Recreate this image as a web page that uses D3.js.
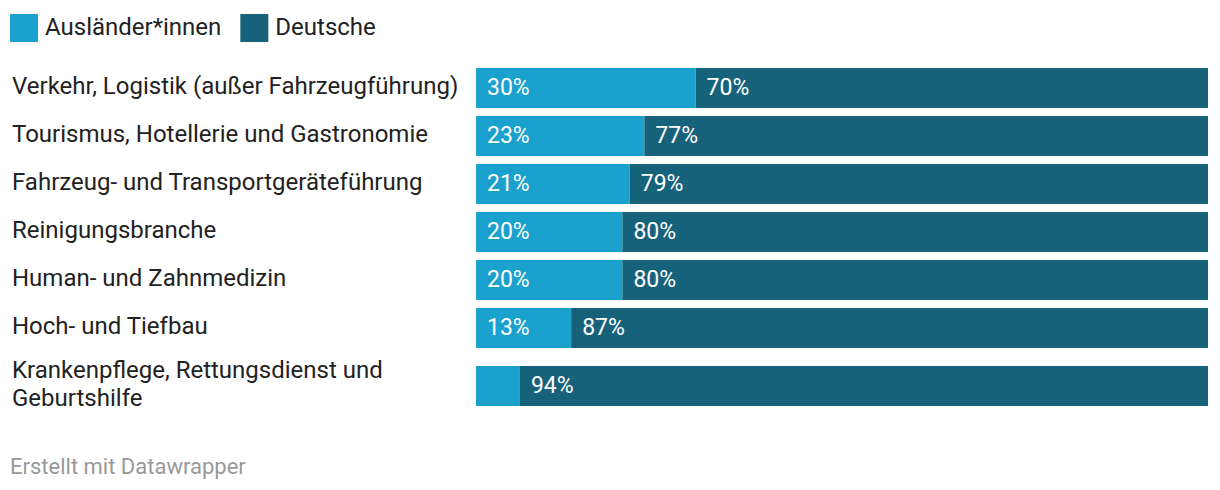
<!DOCTYPE html>
<html>
<head>
<meta charset="utf-8">
<script src="https://cdn.jsdelivr.net/npm/d3@7"></script>
<style>
  body { margin: 0; background: #fff; }
  svg { display: block; font-family: Roboto, sans-serif; }
</style>
</head>
<body>
<div id="chart"></div>
<script>
const categories = [
  ["Verkehr, Logistik (außer Fahrzeugführung)"],
  ["Tourismus, Hotellerie und Gastronomie"],
  ["Fahrzeug- und Transportgeräteführung"],
  ["Reinigungsbranche"],
  ["Human- und Zahnmedizin"],
  ["Hoch- und Tiefbau"],
  ["Krankenpflege, Rettungsdienst und", "Geburtshilfe"]
];
const auslaender = [30, 23, 21, 20, 20, 13, 6];
const deutsche = [70, 77, 79, 80, 80, 87, 94];
const seriesNames = ["Ausländer*innen", "Deutsche"];
const colors = ["#1ba1cd", "#17627b"];

const width = 1220, height = 490;
const svg = d3.select("#chart").append("svg")
  .attr("width", width)
  .attr("height", height);

// legend
const legend = svg.append("g");
let lx = 10;
seriesNames.forEach((name, i) => {
  legend.append("rect")
    .attr("x", lx).attr("y", 14)
    .attr("width", 28).attr("height", 28)
    .attr("fill", colors[i]);
  const t = legend.append("text")
    .attr("x", lx + 35).attr("y", 26.5)
    .attr("dominant-baseline", "central")
    .attr("font-size", 24)
    .attr("fill", "#222")
    .text(name);
  lx += 35 + t.node().getComputedTextLength() + 19;
});

// rows
const x = d3.scaleLinear().domain([0, 100]).range([476, 1208]);
const barH = 40, gap = 8, lineH = 28;
let rowTop = 68;
const rows = categories.map((lines, i) => {
  const block = Math.max(barH, lines.length * 30);
  const cy = rowTop + block / 2;
  rowTop += block + gap;
  return { lines, cy, a: auslaender[i], d: deutsche[i] };
});

const g = svg.append("g");
const row = g.selectAll("g.row").data(rows).join("g").attr("class", "row");

row.append("text")
  .attr("x", 12)
  .attr("font-size", 24)
  .attr("fill", "#222")
  .attr("dominant-baseline", "central")
  .selectAll("tspan")
  .data(d => d.lines.map((l, j) => ({ l, y: d.cy - 2 + (j - (d.lines.length - 1) / 2) * lineH })))
  .join("tspan")
  .attr("x", 12)
  .attr("y", d => d.y)
  .text(d => d.l);

// foreign segment
row.append("rect")
  .attr("x", x(0))
  .attr("y", d => d.cy - barH / 2)
  .attr("width", d => x(d.a) - x(0))
  .attr("height", barH)
  .attr("fill", colors[0]);

// german segment
row.append("rect")
  .attr("x", d => x(d.a))
  .attr("y", d => d.cy - barH / 2)
  .attr("width", d => x(d.a + d.d) - x(d.a))
  .attr("height", barH)
  .attr("fill", colors[1]);

// value labels, hidden when the segment is too small
row.filter(d => x(d.a) - x(0) > 60).append("text")
  .attr("x", x(0) + 11)
  .attr("y", d => d.cy - 1)
  .attr("dominant-baseline", "central")
  .attr("font-size", 23)
  .attr("fill", "#fff")
  .text(d => d.a + "%");

row.append("text")
  .attr("x", d => x(d.a) + 11)
  .attr("y", d => d.cy - 1)
  .attr("dominant-baseline", "central")
  .attr("font-size", 23)
  .attr("fill", "#fff")
  .text(d => d.d + "%");

// footer
svg.append("text")
  .attr("x", 10)
  .attr("y", 466)
  .attr("dominant-baseline", "central")
  .attr("font-size", 22)
  .attr("fill", "#999")
  .text("Erstellt mit Datawrapper");
</script>
</body>
</html>
